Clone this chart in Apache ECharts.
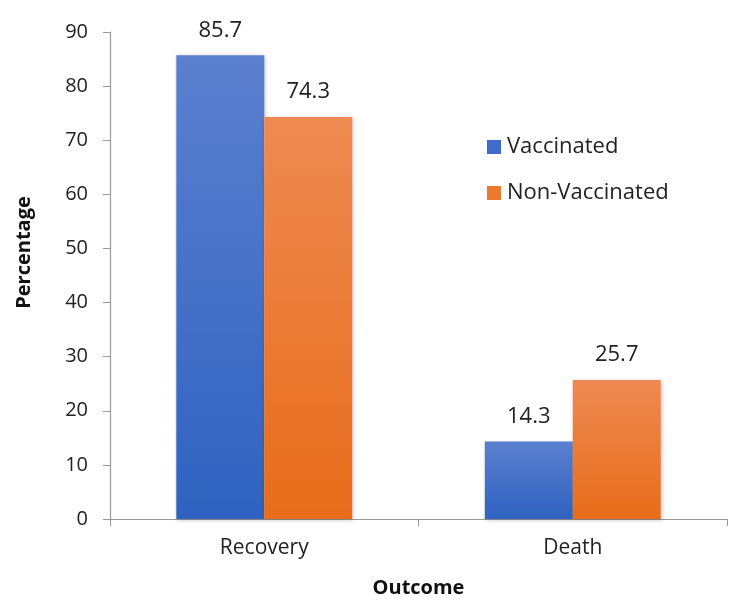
<!DOCTYPE html>
<html><head><meta charset="utf-8">
<script src="https://cdn.jsdelivr.net/npm/echarts@6/dist/echarts.min.js"></script>
<style>html,body{margin:0;padding:0;background:#fff}#c{width:750px;height:614px}</style>
</head><body><div id="c"></div>
<script>
const categories = ['Recovery', 'Death'];
const vaccinated = [85.7, 14.3];
const nonVaccinated = [74.3, 25.7];
const seriesNames = ['Vaccinated', 'Non-Vaccinated'];

const font = 'Open Sans, Liberation Sans, sans-serif';
const grad = (top, bottom) => new echarts.graphic.LinearGradient(0, 0, 0, 1, [
  {offset: 0, color: top}, {offset: 1, color: bottom}
]);
const chart = echarts.init(document.getElementById('c'), null, {renderer: 'canvas'});
chart.setOption({
  animation: false,
  backgroundColor: '#fff',
  grid: {left: 110, right: 23, top: 32, bottom: 95, containLabel: false},
  legend: {
    orient: 'vertical', left: 482, top: 131, itemGap: 24,
    itemWidth: 14, itemHeight: 14, icon: 'rect',
    textStyle: {fontFamily: font, fontSize: 22, color: '#222', padding: [0, 0, 0, 1]},
    data: [
      {name: seriesNames[0], itemStyle: {color: '#3f6ccb'}},
      {name: seriesNames[1], itemStyle: {color: '#ed7a2c'}}
    ]
  },
  xAxis: {
    type: 'category', data: categories,
    name: 'Outcome', nameLocation: 'middle', nameGap: 59,
    nameTextStyle: {fontFamily: font, fontSize: 20, fontWeight: 'bold', color: '#111'},
    axisLine: {lineStyle: {color: '#999', width: 1.2}},
    axisTick: {show: true, length: 7, lineStyle: {color: '#999'}},
    axisLabel: {fontFamily: font, fontSize: 21, color: '#222', margin: 19}
  },
  yAxis: {
    type: 'value', min: 0, max: 90, interval: 10,
    name: 'Percentage', nameLocation: 'middle', nameGap: 76, nameRotate: 90,
    nameTextStyle: {fontFamily: font, fontSize: 20, fontWeight: 'bold', color: '#111', padding: [0, 0, 0, 46]},
    axisLine: {show: true, lineStyle: {color: '#999', width: 1.2}},
    axisTick: {show: true, length: 7, lineStyle: {color: '#999'}},
    splitLine: {show: false},
    axisLabel: {fontFamily: font, fontSize: 20, color: '#222', margin: 22}
  },
  series: [
    {
      name: seriesNames[0], type: 'bar', data: vaccinated,
      barGap: '0%', barCategoryGap: '43%',
      itemStyle: {color: grad('#5b80cf', '#2f62c0'), shadowColor: 'rgba(0,0,0,0.25)', shadowBlur: 4, shadowOffsetX: 1, shadowOffsetY: 1},
      label: {show: true, position: 'top', distance: 14, fontFamily: font, fontSize: 22, color: '#222'}
    },
    {
      name: seriesNames[1], type: 'bar', data: nonVaccinated,
      itemStyle: {color: grad('#ee8a52', '#e86c1a'), shadowColor: 'rgba(0,0,0,0.25)', shadowBlur: 4, shadowOffsetX: 1, shadowOffsetY: 1},
      label: {show: true, position: 'top', distance: 14, fontFamily: font, fontSize: 22, color: '#222'}
    }
  ]
});
</script></body></html>
